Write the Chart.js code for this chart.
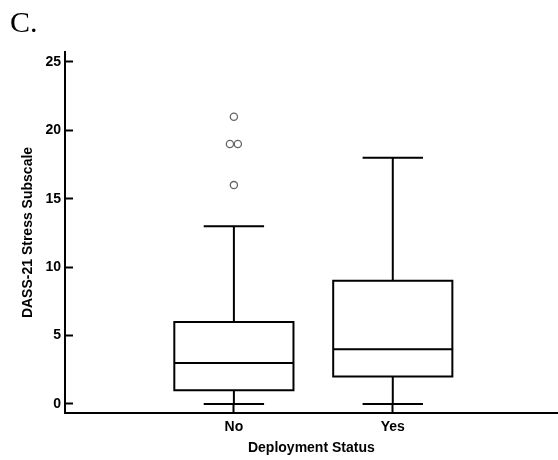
<!DOCTYPE html>
<html><head><meta charset="utf-8">
<script src="https://cdn.jsdelivr.net/npm/chart.js@4/dist/chart.umd.min.js"></script>
<style>
html,body{margin:0;padding:0;background:#fff;overflow:hidden;}
#wrap{position:relative;width:558px;height:460px;overflow:hidden;}
#panel{position:absolute;left:10px;top:2px;font-family:"Liberation Serif","Times New Roman",serif;font-size:30px;line-height:40px;color:#000;}
canvas{position:absolute;left:0;top:0;}
</style></head><body>
<div id="wrap"><canvas id="c" width="563" height="460"></canvas><div id="panel">C.</div></div>
<script>
// ---- data ----
const categories = ['No', 'Yes'];
const mins      = [0, 0];
const q1s       = [1, 2];
const medians   = [3, 4];
const q3s       = [6, 9];
const maxs      = [13, 18];
const outliers  = [[16, 19, 19, 21], []];
const yTicks    = [0, 5, 10, 15, 20, 25];
const yTitle = 'DASS-21 Stress Subscale';
const xTitle = 'Deployment Status';

// ---- build datasets ----
const halfBox = 0.375, halfCap = 0.19, dupStep = 0.05;
function boxPath(i) {
  const x = i + 1, gap = {x: x, y: null};
  return [
    {x: x, y: q1s[i]}, {x: x + halfBox, y: q1s[i]}, {x: x + halfBox, y: q3s[i]},
    {x: x - halfBox, y: q3s[i]}, {x: x - halfBox, y: q1s[i]}, {x: x, y: q1s[i]}, gap,
    {x: x - halfBox, y: medians[i]}, {x: x + halfBox, y: medians[i]}, gap,
    {x: x, y: q3s[i]}, {x: x, y: maxs[i]}, gap,
    {x: x - halfCap, y: maxs[i]}, {x: x + halfCap, y: maxs[i]}, gap,
    {x: x, y: q1s[i]}, {x: x, y: mins[i]}, gap,
    {x: x - halfCap, y: mins[i]}, {x: x + halfCap, y: mins[i]}
  ];
}
function outlierPoints(i) {
  const x = i + 1, pts = [], counts = {};
  outliers[i].forEach(v => counts[v] = (counts[v] || 0) + 1);
  Object.keys(counts).forEach(k => {
    const n = counts[k];
    for (let j = 0; j < n; j++) pts.push({x: x + (j - (n - 1) / 2) * dupStep, y: Number(k)});
  });
  return pts;
}
const datasets = [];
categories.forEach((c, i) => {
  datasets.push({
    data: boxPath(i), showLine: true, borderColor: '#000', borderWidth: 2,
    pointRadius: 0, borderJoinStyle: 'miter', borderCapStyle: 'butt', spanGaps: false, tension: 0
  });
  datasets.push({
    data: outlierPoints(i), showLine: false, pointRadius: 3.6, pointStyle: 'circle',
    pointBorderColor: '#666', pointBackgroundColor: '#fff', pointBorderWidth: 1.3
  });
});

const boldFont = {family: '"Liberation Sans", Arial, sans-serif', size: 14, weight: 'bold'};

new Chart(document.getElementById('c'), {
  type: 'scatter',
  data: {datasets: datasets},
  options: {
    responsive: false, animation: false, devicePixelRatio: 1,
    layout: {padding: {top: 52, right: 0, left: 0, bottom: 0}},
    plugins: {legend: {display: false}, tooltip: {enabled: false}},
    scales: {
      x: {
        type: 'linear', min: -0.063, max: 3.038,
        afterBuildTicks: s => { s.ticks = categories.map((c, i) => ({value: i + 1})); },
        afterFit: s => { s.height = 47; },
        ticks: {callback: (v) => categories[v - 1], color: '#000', font: boldFont, padding: 15, autoSkip: false, maxRotation: 0},
        grid: {display: true, drawOnChartArea: false, drawTicks: true, tickLength: -9, tickWidth: 2, tickColor: '#000'},
        border: {display: true, color: '#000', width: 2},
        title: {display: true, text: xTitle, color: '#000', font: boldFont, padding: {top: 0, bottom: 3}}
      },
      y: {
        type: 'linear', min: -0.66, max: 25.73,
        afterBuildTicks: s => { s.ticks = yTicks.map(v => ({value: v})); },
        afterFit: s => { s.width = 65; },
        ticks: {color: '#000', font: boldFont, padding: 12},
        grid: {display: true, drawOnChartArea: false, drawTicks: true, tickLength: -8, tickWidth: 2, tickColor: '#000'},
        border: {display: true, color: '#000', width: 2},
        title: {display: true, text: yTitle, color: '#000', font: boldFont, padding: {top: 20, bottom: 0}}
      }
    }
  }
});
</script>
</body></html>
